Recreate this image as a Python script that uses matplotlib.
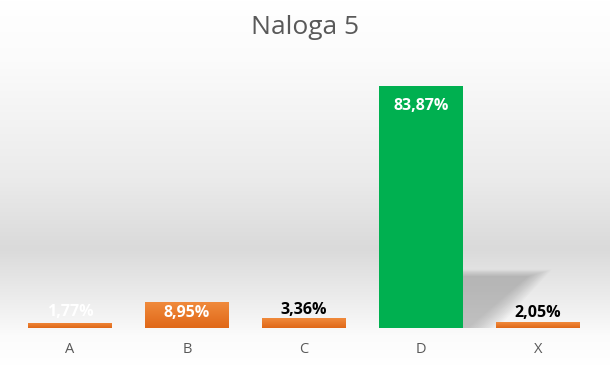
import numpy as np
import matplotlib
matplotlib.use("Agg")
import matplotlib.pyplot as plt
from matplotlib.patches import Polygon
from matplotlib.colors import LinearSegmentedColormap

categories = ["A", "B", "C", "D", "X"]
values = [1.77, 8.95, 3.36, 83.87, 2.05]
labels = ["1,77%", "8,95%", "3,36%", "83,87%", "2,05%"]
title = "Naloga 5"

plt.rcParams['font.family'] = ['Open Sans', 'DejaVu Sans']

W, H = 610, 365
fig = plt.figure(figsize=(W / 100, H / 100), dpi=100)

# background gradient
bg = fig.add_axes([0, 0, 1, 1], zorder=-10)
rows = np.arange(H)
g = np.interp(rows, [0, 60, 180, 248, 300, 335, 365], [1.0, 0.985, 0.92, 0.855, 0.93, 0.985, 1.0])
img = np.repeat(g[:, None], 2, axis=1)
bg.imshow(np.dstack([img, img, img]), aspect='auto', extent=[0, 1, 0, 1], origin='upper')
bg.set_axis_off()

ymax = 90
px_per = 2.885
top_px = 328 - ymax * px_per
ax = fig.add_axes([11.5 / W, (H - 328) / H, 585 / W, (328 - top_px) / H])
ax.patch.set_alpha(0)
x = np.arange(len(categories))
bw = 0.71
colors = ['#EB7A2C', '#EB7A2C', '#EB7A2C', '#00B050', '#EB7A2C']
bars = ax.bar(x, values, width=bw, color=colors, zorder=3)

# orange gradient (lighter top, darker bottom)
cmap = LinearSegmentedColormap.from_list('og', ['#F08A3C', '#E06818'])
for b, c in zip(bars, colors):
    if c == '#EB7A2C':
        x0, y0 = b.get_x(), b.get_y()
        w, h = b.get_width(), b.get_height()
        grad = np.linspace(1, 0, 50)[:, None]
        im = ax.imshow(grad, cmap=cmap, vmin=0, vmax=1, aspect='auto',
                       extent=[x0, x0 + w, y0, y0 + h], origin='lower', zorder=4)
        im.set_clip_path(b)

# soft shadow behind D
d = bars[3]
xr = d.get_x() + d.get_width()
sh_h = (328 - 272) / px_per
n = 14
for i in range(n):
    k = i / (n - 1)
    top = sh_h * (1.04 - 0.12 * k)
    dx = 0.76 - 0.2 * k
    poly = Polygon([(xr, 0), (xr, top), (xr + dx, top),
                    (xr + 0.05 + 0.25 * (1 - k), 0)],
                   closed=True, facecolor='#8a8a8a', edgecolor='none', alpha=0.045, zorder=2)
    ax.add_patch(poly)

ax.set_xlim(-0.5, len(categories) - 0.5)
ax.set_ylim(0, ymax)
ax.set_yticks([])
ax.set_xticks(x)
ax.set_xticklabels(categories, color='#595959', fontsize=10.5)
ax.tick_params(axis='x', length=0, pad=10)
for s in ax.spines.values():
    s.set_visible(False)

fs = 11.5
for i, (b, v, lab) in enumerate(zip(bars, values, labels)):
    cx = b.get_x() + bw / 2
    if v > 50:
        ax.text(cx, v - 7, lab, ha='center', va='center', color='white',
                fontsize=fs, fontweight='bold', zorder=6)
    elif i == 1:
        ax.text(cx, v - 3.8, lab, ha='center', va='center', color='white',
                fontsize=fs, fontweight='bold', zorder=6)
    elif i == 0:
        ax.text(cx, v + 3.8, lab, ha='center', va='center', color='white',
                fontsize=fs, fontweight='bold', zorder=6)
    else:
        ax.text(cx, v + 3.0, lab, ha='center', va='center', color='black',
                fontsize=fs, fontweight='bold', zorder=6)

fig.text(0.5, 1 - 27 / H, title, ha='center', va='center', fontsize=19, color='#595959')

fig.savefig('out.png', dpi=100)
